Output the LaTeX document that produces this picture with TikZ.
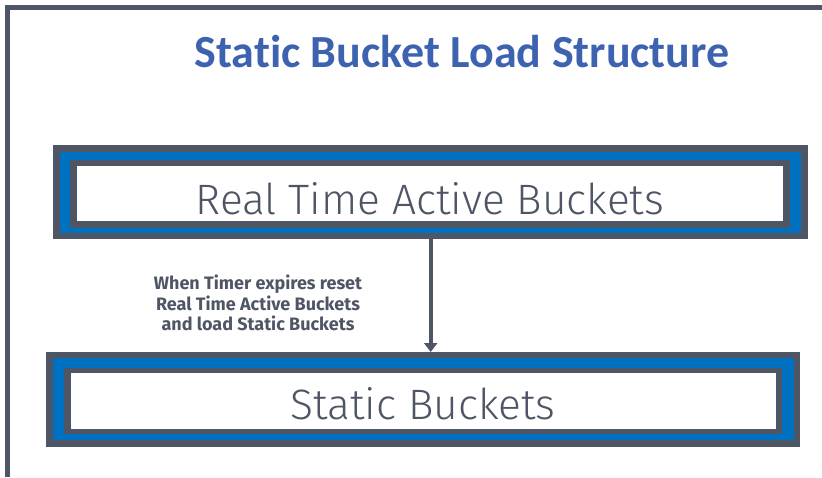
\documentclass[tikz,border=0pt]{standalone}
\usepackage{fontspec}
\usetikzlibrary{arrows.meta}
\setmainfont{Fira Sans}
\newfontfamily\titlefont[Ligatures=NoCommon]{Carlito}
\newfontfamily\boxfont{Fira Sans Light}
\definecolor{slate}{HTML}{4E5565}
\definecolor{bucketblue}{HTML}{0070C0}
\definecolor{titleblue}{HTML}{3D62B0}
\tikzset{
  outerbox/.style={rectangle, fill=slate, inner sep=0pt, anchor=north west},
  boxtext/.style={font=\boxfont\fontsize{42.5}{48}\selectfont, text=slate, inner sep=0pt},
  notetext/.style={font=\fontsize{18}{20.5}\selectfont\bfseries, text=slate, align=center, inner sep=0pt},
  flow/.style={draw=slate, line width=4pt, -{Triangle[width=13pt,length=9pt]}}
}
\begin{document}
\begin{tikzpicture}[x=1pt,y=-1pt]
\useasboundingbox (0,0) rectangle (822,477);
% page frame (top and left edges)
\draw[slate, line width=5pt] (822,7.5) -- (7.5,7.5) -- (7.5,477);
% title
\node[font=\titlefont\fontsize{46}{52}\selectfont\bfseries, text=titleblue, inner sep=0pt] (title) at (462,52) {Static Bucket Load Structure};
% real time active buckets
\node[outerbox, minimum width=755pt, minimum height=94pt] (rtab) at (53,145) {};
\fill[bucketblue] (60,151.5) rectangle (801,233);
\fill[slate] (70,160) rectangle (790,227.5);
\fill[white] (77,166) rectangle (783,221);
\node[boxtext] (rtabtext) at (430,199) {Real Time Active Buckets};
% static buckets
\node[outerbox, minimum width=754pt, minimum height=95pt] (sb) at (46,352) {};
\fill[bucketblue] (52.7,358.3) rectangle (794,440);
\fill[slate] (64,367.7) rectangle (782,434);
\fill[white] (70.7,373.3) rectangle (776,428.7);
\node[boxtext] (sbtext) at (423,404) {Static Buckets};
% transition
\draw[flow] (rtab.south) -- (rtab.south |- sb.north);
\node[notetext] (note) at (258,303) {When Timer expires reset\\Real Time Active Buckets\\and load Static Buckets};
\end{tikzpicture}
\end{document}
